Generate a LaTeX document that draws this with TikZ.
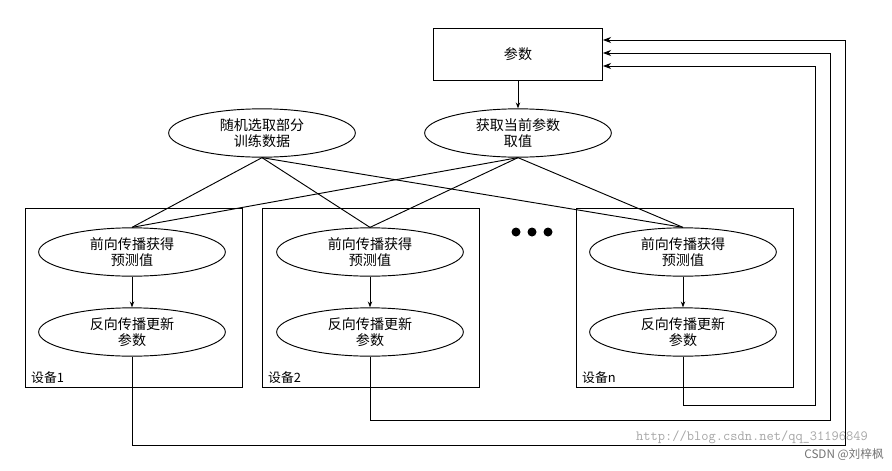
\documentclass[tikz,border=0pt]{standalone}
\usepackage{fontspec}
\setmainfont{Noto Sans CJK SC}
\usetikzlibrary{shapes.geometric,arrows.meta}
\tikzset{
  ovalnode/.style={ellipse, draw, thick, minimum width=5.6cm, minimum height=1.45cm, align=center, font=\fontsize{12}{14}\selectfont, inner sep=0pt},
  devbox/.style={draw, thick},
  link/.style={thick},
  feed/.style={thick, -{Stealth[length=7pt]}},
  devlabel/.style={anchor=south west, font=\fontsize{11}{13}\selectfont}
}
\begin{document}
\begin{tikzpicture}[x=0.03cm, y=-0.03cm]
                \useasboundingbox (0,0) rectangle (892,470);
                \node [draw, thick, minimum width=5.07cm, minimum height=1.56cm, font=\fontsize{12}{14}\selectfont] (param) at (518,54) {参数};
                \node [ovalnode] (sample) at (262,133) {随机选取部分\\训练数据};
                \node [ovalnode] (fetch) at (518,133) {获取当前参数\\取值};
                % devices
                \foreach \n/\x/\cx/\lab in {a/25/132/设备1, b/262/370/设备2, c/576/683/设备n}{
                    \draw [devbox] (\x,208) rectangle (\x+217,387);
                    \node [ovalnode] (fwd\n) at (\cx,252) {前向传播获得\\预测值};
                    \node [ovalnode] (bwd\n) at (\cx,332) {反向传播更新\\参数};
                    \node [devlabel] at (\x+2,388) {\lab};
                    \draw [thick, -{Stealth[length=5pt]}] (fwd\n) -- (bwd\n);
                    \draw [link] (sample.south) -- (fwd\n.north);
                    \draw [link] (fetch.south) -- (fwd\n.north);
                }
                \draw [thick, -{Stealth[length=5pt]}] (param) -- (fetch);
                \foreach \x in {516,532,548}
                    \fill (\x,232) circle (4.5);
                % feedback paths
                \draw [feed] (bwda.south) -- (132,445) -- (845,445) -- (845,40) -- (param.east |- 0,40);
                \draw [feed] (bwdb.south) -- (370,420) -- (830,420) -- (830,53) -- (param.east |- 0,53);
                \draw [feed] (bwdc.south) -- (683,405) -- (815,405) -- (815,66) -- (param.east |- 0,66);
                % watermark
                \node [anchor=east, text=black!35, font=\ttfamily\fontsize{12}{14}\selectfont] (url) at (872,437) {http://blog.csdn.net/qq\_31196849};
                \node [anchor=east, text=black!55, font=\fontsize{10}{12}\selectfont] (mark) at (888,455) {CSDN @刘梓枫};
            \end{tikzpicture}
\end{document}
